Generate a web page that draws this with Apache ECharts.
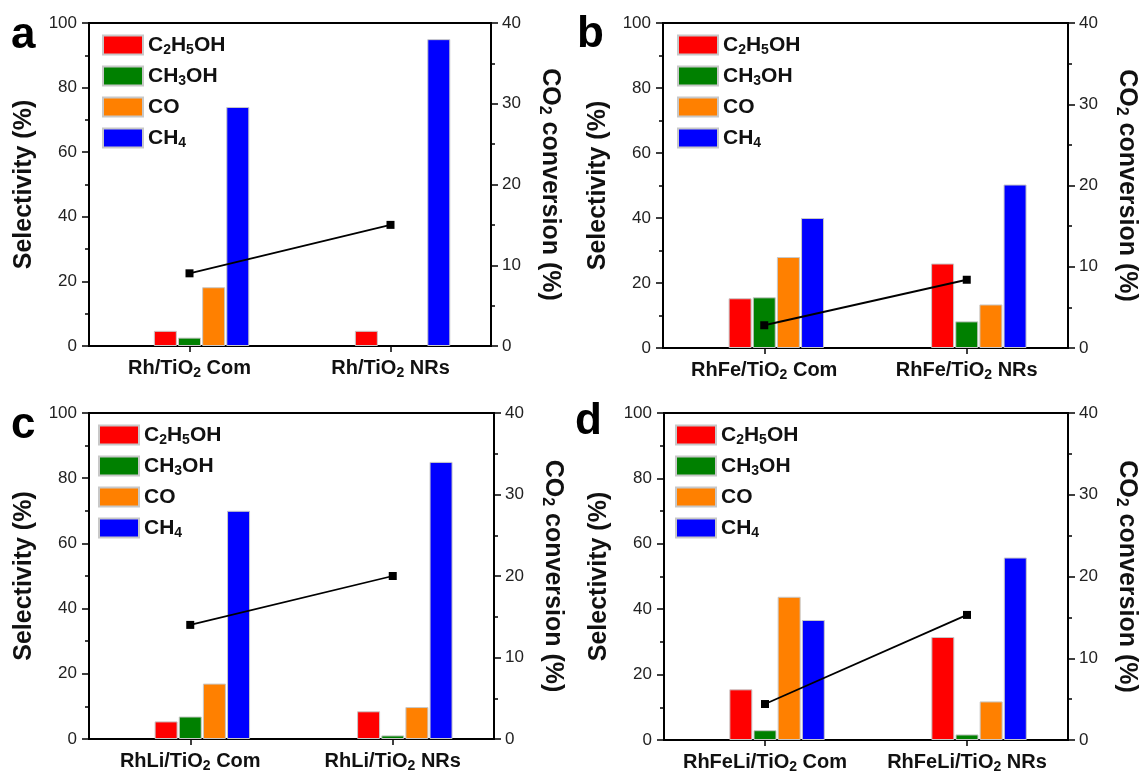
<!DOCTYPE html>
<html>
<head>
<meta charset="utf-8">
<title>Product selectivity and CO2 conversion</title>
<script src="https://cdn.jsdelivr.net/npm/echarts@6/dist/echarts.min.js"></script>
<style>
  html, body { margin: 0; padding: 0; background: #fff; }
  #chart { width: 1142px; height: 780px; }
</style>
</head>
<body>
<div id="chart"></div>
<script>
// Catalysts compared in each panel
const catsA = ['Rh/TiO2 Com', 'Rh/TiO2 NRs'];
const catsB = ['RhFe/TiO2 Com', 'RhFe/TiO2 NRs'];
const catsC = ['RhLi/TiO2 Com', 'RhLi/TiO2 NRs'];
const catsD = ['RhFeLi/TiO2 Com', 'RhFeLi/TiO2 NRs'];

// Products (legend entries)
const products = ['C2H5OH', 'CH3OH', 'CO', 'CH4'];

// Selectivity (%) per product, [Com, NRs]; null = no product detected
const ethanolA = [4.7, 4.7];
const methanolA = [2.6, null];
const coA = [18.2, null];
const methaneA = [74, 95];

const ethanolB = [15.3, 26];
const methanolB = [15.6, 8.2];
const coB = [28, 13.4];
const methaneB = [40, 50.3];

const ethanolC = [5.4, 8.5];
const methanolC = [6.9, 1.1];
const coC = [17, 9.8];
const methaneC = [70, 85];

const ethanolD = [15.5, 31.5];
const methanolD = [3.0, 1.7];
const coD = [43.8, 11.8];
const methaneD = [36.7, 55.8];

// CO2 conversion (%), [Com, NRs]
const convA = [9.0, 15.0];
const convB = [2.8, 8.4];
const convC = [14.0, 20.0];
const convD = [4.4, 15.3];

// Axis ranges and tick steps
const selTicks = { min: 0, max: 100, interval: 20 };
const convTicks = { min: 0, max: 40, interval: 10 };

// ---- styling ----
const FONT = '"Liberation Sans", Arial, Helvetica, sans-serif';
const productColors = ['#ff0000', '#008000', '#ff8000', '#0000ff'];

const panels = [
  { letter: 'a', cats: catsA, sel: [ethanolA, methanolA, coA, methaneA], conv: convA,
    grid: { left: 89, top: 23, width: 402, height: 323 }, legend: { left: 102, top: 33 },
    letterPos: [11, 48] },
  { letter: 'b', cats: catsB, sel: [ethanolB, methanolB, coB, methaneB], conv: convB,
    grid: { left: 663, top: 23, width: 410, height: 325 }, legend: { left: 677, top: 33 },
    letterPos: [577, 47] },
  { letter: 'c', cats: catsC, sel: [ethanolC, methanolC, coC, methaneC], conv: convC,
    grid: { left: 89, top: 413, width: 405, height: 326 }, legend: { left: 98, top: 423 },
    letterPos: [11, 438] },
  { letter: 'd', cats: catsD, sel: [ethanolD, methanolD, coD, methaneD], conv: convD,
    grid: { left: 664, top: 413, width: 410, height: 327 }, legend: { left: 675, top: 423 },
    letterPos: [575, 434] }
];

// subscript digits in chemical formulas
function subFormula(text) {
  return text.replace(/([A-Za-z\)])(\d)/g, '$1{s|$2}');
}

const subRich = {
  s: { fontSize: 14, fontWeight: 'bold', fontFamily: FONT, lineHeight: 12, verticalAlign: 'bottom', color: '#111' }
};

const grids = [], xAxes = [], yAxes = [], series = [], legends = [], graphics = [];

panels.forEach((p, i) => {
  grids.push(Object.assign({
    show: true, borderColor: '#000', borderWidth: 2, backgroundColor: 'transparent', containLabel: false
  }, p.grid));

  xAxes.push({
    type: 'category', gridIndex: i, data: p.cats, position: 'bottom',
    axisLine: { show: true, lineStyle: { color: '#000', width: 2 } },
    axisTick: { show: true, alignWithLabel: true, length: 6, inside: false, lineStyle: { color: '#000', width: 1.5 } },
    axisLabel: {
      interval: 0, margin: 10, fontSize: 20, fontWeight: 'bold', fontFamily: FONT, color: '#111',
      lineHeight: 24,
      formatter: v => subFormula(v),
      rich: subRich
    },
    splitLine: { show: false }
  });

  yAxes.push({
    type: 'value', gridIndex: i, position: 'left',
    min: selTicks.min, max: selTicks.max, interval: selTicks.interval,
    name: 'Selectivity (%)', nameLocation: 'middle', nameGap: 52,
    nameTextStyle: { fontSize: 25, fontWeight: 'bold', fontFamily: FONT, color: '#111' },
    axisLine: { show: true, lineStyle: { color: '#000', width: 2 } },
    axisTick: { show: true, inside: false, length: 7, lineStyle: { color: '#000', width: 1.5 } },
    minorTick: { show: true, splitNumber: 2, length: 4, lineStyle: { color: '#000', width: 1.5 } },
    axisLabel: { fontSize: 17, fontFamily: FONT, color: '#222', margin: 12 },
    splitLine: { show: false }
  });

  yAxes.push({
    type: 'value', gridIndex: i, position: 'right',
    min: convTicks.min, max: convTicks.max, interval: convTicks.interval,
    name: 'CO{s|2} conversion (%)', nameLocation: 'middle', nameGap: 45, nameRotate: -90,
    nameTextStyle: {
      fontSize: 25, fontWeight: 'bold', fontFamily: FONT, color: '#111', lineHeight: 28,
      rich: { s: { fontSize: 16, fontWeight: 'bold', fontFamily: FONT, lineHeight: 14, verticalAlign: 'bottom', color: '#111' } }
    },
    axisLine: { show: true, lineStyle: { color: '#000', width: 2 } },
    axisTick: { show: true, inside: false, length: 7, lineStyle: { color: '#000', width: 1.5 } },
    minorTick: { show: true, splitNumber: 2, length: 4, lineStyle: { color: '#000', width: 1.5 } },
    axisLabel: { fontSize: 17, fontFamily: FONT, color: '#222', margin: 11 },
    splitLine: { show: false }
  });

  // empty leading slot so each bar group sits like the original layout
  series.push({
    type: 'bar', name: 'slot', xAxisIndex: i, yAxisIndex: 2 * i,
    data: p.cats.map(() => null), barWidth: 23, barGap: '5%', silent: true
  });

  products.forEach((prod, k) => {
    series.push({
      type: 'bar', name: prod, xAxisIndex: i, yAxisIndex: 2 * i,
      data: p.sel[k], barWidth: 23, barGap: '5%',
      itemStyle: { color: productColors[k], borderColor: '#c8c8c8', borderWidth: 1 },
      emphasis: { disabled: true }, z: 2
    });
  });

  series.push({
    type: 'line', name: 'CO2 conversion', xAxisIndex: i, yAxisIndex: 2 * i + 1,
    data: p.conv, symbol: 'rect', symbolSize: 8,
    lineStyle: { color: '#000', width: 1.8 },
    itemStyle: { color: '#000' },
    z: 5, emphasis: { disabled: true }
  });

  legends.push({
    data: products, orient: 'vertical', left: p.legend.left, top: p.legend.top, padding: 0,
    itemWidth: 40, itemHeight: 19, itemGap: 7, icon: 'rect', selectedMode: false,
    formatter: name => subFormula(name),
    textStyle: {
      fontSize: 21, fontWeight: 'bold', fontFamily: FONT, color: '#111', lineHeight: 24,
      rich: subRich
    }
  });

  const fs = 44;
  graphics.push({
    type: 'text', left: p.letterPos[0], top: p.letterPos[1] - Math.round(fs * 0.78),
    style: { text: p.letter, font: 'bold ' + fs + 'px ' + FONT, fill: '#000' }
  });
});

const chart = echarts.init(document.getElementById('chart'), null, { renderer: 'canvas' });
chart.setOption({
  animation: false,
  backgroundColor: '#fff',
  textStyle: { fontFamily: FONT },
  grid: grids,
  xAxis: xAxes,
  yAxis: yAxes,
  legend: legends,
  series: series,
  graphic: graphics
});
</script>
</body>
</html>
